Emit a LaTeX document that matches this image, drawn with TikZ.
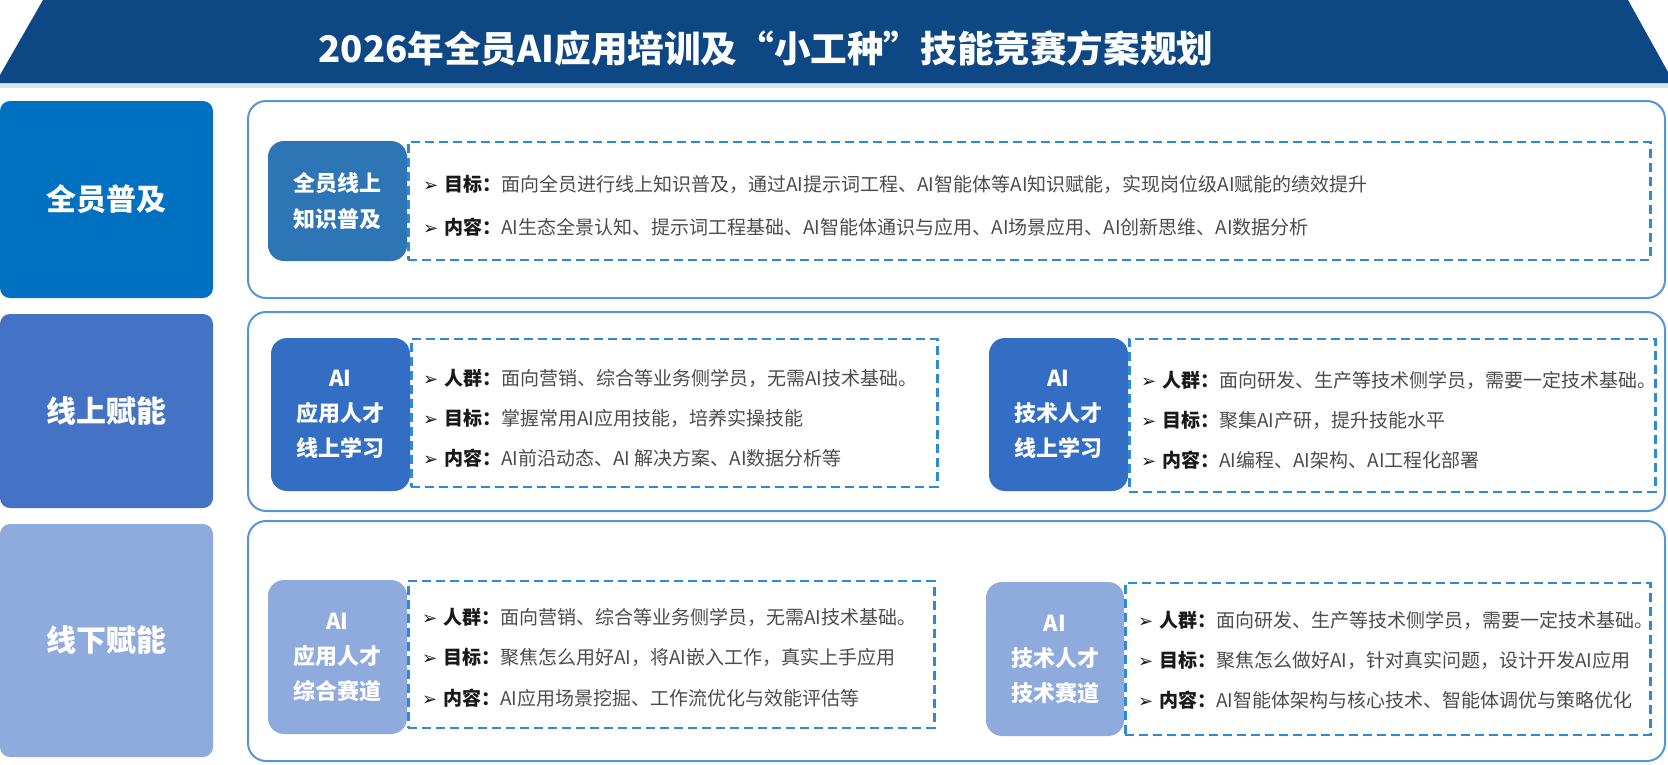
\documentclass[tikz,border=0pt]{standalone}
\usepackage{fontspec}
\setmainfont{Noto Sans CJK SC}
\newfontfamily\arrowfont{DejaVu Sans}
\usepackage{xcolor}
\usepackage{tikz}
\usetikzlibrary{positioning}
\definecolor{bannerNavy}{RGB}{14,72,132}
\definecolor{bannerEdge}{RGB}{214,228,242}
\definecolor{catBlue}{RGB}{0,112,192}
\definecolor{catMid}{RGB}{68,114,196}
\definecolor{catLight}{RGB}{143,170,220}
\definecolor{tagBlue}{RGB}{46,117,182}
\definecolor{tagMid}{RGB}{52,110,196}
\definecolor{panelEdge}{RGB}{84,150,214}
\definecolor{dashEdge}{RGB}{46,138,214}
\definecolor{bodyGray}{RGB}{76,76,76}
\definecolor{labelDark}{RGB}{25,25,25}

\newcommand{\bul}[2]{{\color{labelDark}\arrowfont\fontsize{18}{18}\selectfont ➢}\hspace{6pt}{\color{labelDark}\bfseries #1：}#2}

\tikzset{
  catbox/.style={rounded corners=10pt, text=white, inner sep=0pt,
    font=\fontsize{30}{36}\selectfont\bfseries, align=center},
  panel/.style={draw=panelEdge, line width=2pt, rounded corners=18pt, fill=white, inner sep=0pt},
  tagbox/.style={rounded corners=16pt, text=white, inner sep=0pt, minimum width=139pt,
    font=\fontsize{22}{35}\selectfont\bfseries, align=center},
  dashbox/.style={draw=dashEdge, line width=2.4pt, dash pattern=on 9pt off 5pt,
    inner sep=0pt, anchor=north west},
  item/.style={anchor=west, inner sep=0pt, text=bodyGray, font=\fontsize{19}{22}\selectfont},
}

\begin{document}
\begin{tikzpicture}[x=1pt,y=-1pt]
\useasboundingbox (0,0) rectangle (1668,764);
% title banner
\fill[bannerEdge] (0,82) rectangle (1668,88);
\fill[bannerNavy] (43,0) -- (1628,0) -- (1668,72) -- (1668,83) -- (0,83) -- (0,75) -- cycle;
\node[text=white, font=\fontsize{36.6}{40}\selectfont\bfseries] (title) at (766,48)
  {2026年全员AI应用培训及“小工种”技能竞赛方案规划};

% left column
\node[catbox, fill=catBlue, minimum width=213pt, minimum height=197pt] (cat1) at (106.5,199.5) {全员普及};
\node[catbox, fill=catMid, minimum width=213pt, minimum height=194pt] (cat2) at (106.5,411) {线上赋能};
\node[catbox, fill=catLight, minimum width=213pt, minimum height=233pt] (cat3) at (106.5,640.5) {线下赋能};

% panels
\node[panel, minimum width=1417pt, minimum height=197pt] (pan1) at (956.5,199.5) {};
\node[panel, minimum width=1417pt, minimum height=199pt] (pan2) at (956.5,411.5) {};
\node[panel, minimum width=1417pt, minimum height=240pt] (pan3) at (956.5,641) {};

% row 1
\node[tagbox, fill=tagBlue, minimum height=120pt, font=\fontsize{22}{36}\selectfont\bfseries] (tag1) at (337.5,201) {全员线上\\知识普及};
\node[dashbox, minimum width=1242pt, minimum height=118pt] (dash1) at (tag1.north east) {};
\node[item] (r1goal) at (423,184) {\bul{目标}{面向全员进行线上知识普及，通过AI提示词工程、AI智能体等AI知识赋能，实现岗位级AI赋能的绩效提升}};
\node[item] (r1cont) at (423,227) {\bul{内容}{AI生态全景认知、提示词工程基础、AI智能体通识与应用、AI场景应用、AI创新思维、AI数据分析}};

% row 2
\node[tagbox, fill=tagMid, minimum height=153pt] (tag2a) at (340.5,414.5) {AI\\应用人才\\线上学习};
\node[dashbox, minimum width=526pt, minimum height=148pt] (dash2a) at (tag2a.north east) {};
\node[item] (r2apeople) at (423,378) {\bul{人群}{面向营销、综合等业务侧学员，无需AI技术基础。}};
\node[item] (r2agoal) at (423,418) {\bul{目标}{掌握常用AI应用技能，培养实操技能}};
\node[item] (r2acont) at (423,458) {\bul{内容}{AI前沿动态、AI 解决方案、AI数据分析等}};

\node[tagbox, fill=tagMid, minimum height=153pt] (tag2b) at (1058.5,414.5) {AI\\技术人才\\线上学习};
\node[dashbox, minimum width=526pt, minimum height=153pt] (dash2b) at (tag2b.north east) {};
\node[item] (r2bpeople) at (1141,380) {\bul{人群}{面向研发、生产等技术侧学员，需要一定技术基础。}};
\node[item] (r2bgoal) at (1141,420) {\bul{目标}{聚集AI产研，提升技能水平}};
\node[item] (r2bcont) at (1141,460) {\bul{内容}{AI编程、AI架构、AI工程化部署}};

% row 3
\node[tagbox, fill=catLight, minimum height=154pt] (tag3a) at (337.5,657) {AI\\应用人才\\综合赛道};
\node[dashbox, minimum width=526pt, minimum height=147pt] (dash3a) at (tag3a.north east) {};
\node[item] (r3apeople) at (422,617) {\bul{人群}{面向营销、综合等业务侧学员，无需AI技术基础。}};
\node[item] (r3agoal) at (422,657) {\bul{目标}{聚焦怎么用好AI，将AI嵌入工作，真实上手应用}};
\node[item] (r3acont) at (422,698) {\bul{内容}{AI应用场景挖掘、工作流优化与效能评估等}};

\node[tagbox, fill=catLight, minimum width=138pt, minimum height=154pt] (tag3b) at (1055,659) {AI\\技术人才\\技术赛道};
\node[dashbox, minimum width=525pt, minimum height=152pt] (dash3b) at (tag3b.north east) {};
\node[item] (r3bpeople) at (1138,620) {\bul{人群}{面向研发、生产等技术侧学员，需要一定技术基础。}};
\node[item] (r3bgoal) at (1138,660) {\bul{目标}{聚焦怎么做好AI，针对真实问题，设计开发AI应用}};
\node[item] (r3bcont) at (1138,700) {\bul{内容}{AI智能体架构与核心技术、智能体调优与策略优化}};
\end{tikzpicture}
\end{document}
